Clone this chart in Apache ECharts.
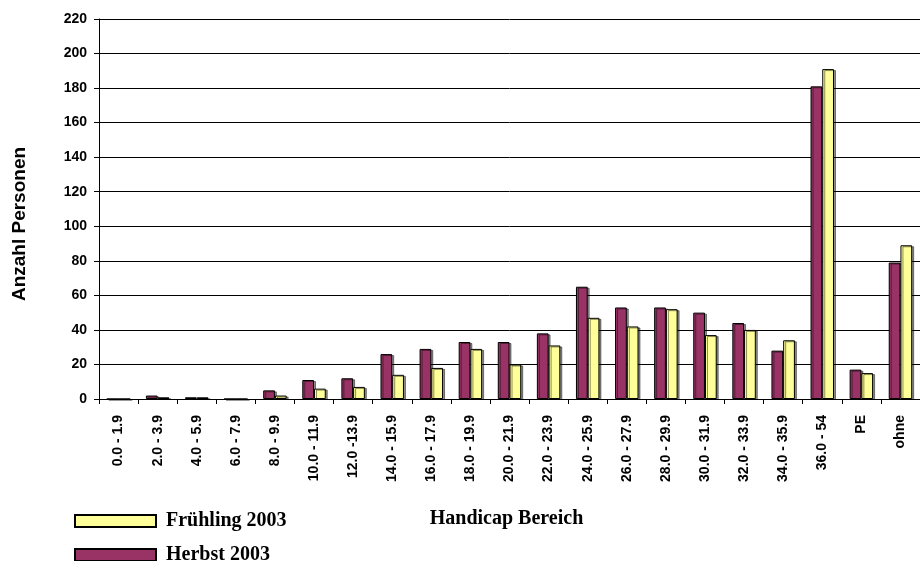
<!DOCTYPE html>
<html>
<head>
<meta charset="utf-8">
<script src="https://cdn.jsdelivr.net/npm/echarts@6/dist/echarts.min.js"></script>
<style>html,body{margin:0;padding:0;background:#fff}#c{width:920px;height:561px}</style>
</head>
<body>
<div id="c"></div>
<script>
const categories = ['0.0 - 1.9','2.0 - 3.9','4.0 - 5.9','6.0 - 7.9','8.0 - 9.9','10.0 - 11.9','12.0 -13.9','14.0 - 15.9','16.0 - 17.9','18.0 - 19.9','20.0 - 21.9','22.0 - 23.9','24.0 - 25.9','26.0 - 27.9','28.0 - 29.9','30.0 - 31.9','32.0 - 33.9','34.0 - 35.9','36.0 - 54','PE','ohne'];
const herbst2003 = [0,2,1,0,5,11,12,26,29,33,33,38,65,53,53,50,44,28,181,17,79];
const fruehling2003 = [0,1,1,0,2,6,7,14,18,29,20,31,47,42,52,37,40,34,191,15,89];
const yTicks = {min:0, max:220, interval:20};

const chart = echarts.init(document.getElementById('c'));
const barStyle = (c) => ({color:c, borderColor:'#000', borderWidth:1, shadowColor:'rgba(0,0,0,0.45)', shadowOffsetX:2, shadowOffsetY:1, shadowBlur:0});
chart.setOption({
  animation:false,
  grid:{left:99, top:19, bottom:162, right:-5, containLabel:false},
  legend:{
    orient:'vertical', left:74, top:511, height:90, padding:0, itemWidth:81, itemHeight:12, itemGap:14,
    icon:'rect', data:['Frühling 2003','Herbst 2003'],
    textStyle:{fontFamily:'Liberation Serif', fontWeight:'bold', fontSize:20, color:'#000', padding:[0,0,8,5]}
  },
  xAxis:{
    type:'category', data:categories,
    name:'Handicap Bereich', nameLocation:'middle', nameGap:110,
    nameTextStyle:{fontFamily:'Liberation Serif', fontWeight:'bold', fontSize:20, color:'#000', padding:[0,6,0,0]},
    axisLine:{lineStyle:{color:'#000', width:1}},
    axisTick:{show:true, length:5, lineStyle:{color:'#000'}},
    axisLabel:{rotate:90, margin:16, fontFamily:'Liberation Sans', fontWeight:'bold', fontSize:14, color:'#000', interval:0}
  },
  yAxis:{
    type:'value', min:yTicks.min, max:yTicks.max, interval:yTicks.interval,
    name:'Anzahl Personen', nameLocation:'middle', nameGap:70,
    nameTextStyle:{fontFamily:'Liberation Sans', fontWeight:'bold', fontSize:19, color:'#000', padding:[0,30,0,0]},
    axisLine:{show:true, lineStyle:{color:'#000', width:1}},
    axisTick:{show:true, length:5, lineStyle:{color:'#000'}},
    axisLabel:{margin:12, fontFamily:'Liberation Sans', fontWeight:'bold', fontSize:14, color:'#000'},
    splitLine:{show:true, lineStyle:{color:'#000', width:1}}
  },
  series:[
    {name:'Herbst 2003', type:'bar', data:herbst2003, barGap:'0%', barCategoryGap:'40%', itemStyle:barStyle('#993366')},
    {name:'Frühling 2003', type:'bar', data:fruehling2003, barGap:'0%', barCategoryGap:'40%', itemStyle:barStyle('#FFFF99')}
  ]
});
</script>
</body>
</html>
